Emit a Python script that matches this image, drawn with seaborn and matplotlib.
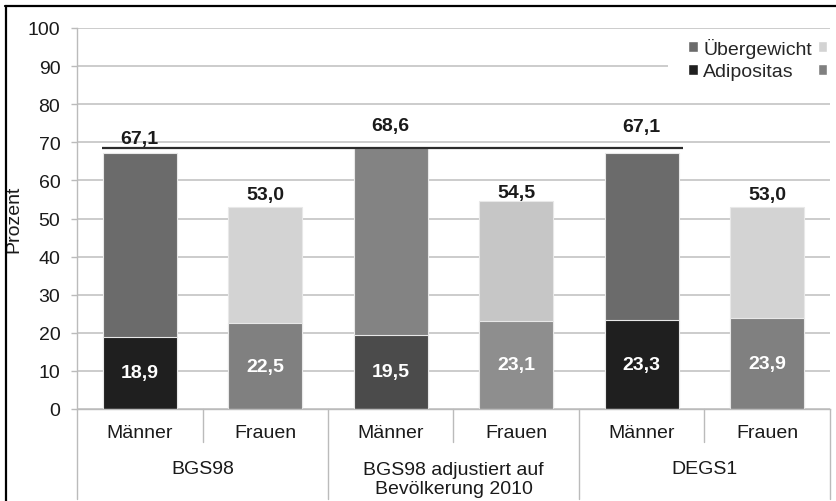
import numpy as np
import pandas as pd
import seaborn as sns
import matplotlib
matplotlib.use("Agg")
import matplotlib.pyplot as plt
from matplotlib.patches import Patch, Rectangle
from matplotlib.lines import Line2D
from matplotlib.transforms import blended_transform_factory

# --- data -------------------------------------------------------------
studies = ["BGS98", "BGS98 adjustiert auf\nBevölkerung 2010", "DEGS1"]
sexes = ["Männer", "Frauen"]
uebergewicht = [67.1, 53.0, 68.6, 54.5, 67.1, 53.0]   # Übergewicht incl. Adipositas
adipositas = [18.9, 22.5, 19.5, 23.1, 23.3, 23.9]
y_ticks = [0, 10, 20, 30, 40, 50, 60, 70, 80, 90, 100]

# --- styling ----------------------------------------------------------
top_colors = ["#6b6b6b", "#d3d3d3", "#838383", "#c6c6c6", "#6b6b6b", "#d3d3d3"]
bottom_colors = ["#1f1f1f", "#808080", "#4b4b4b", "#8e8e8e", "#1f1f1f", "#808080"]
label_lift = [10.5, 9.0, 16.0, 6.5, 19.5, 9.0]   # points above each bar top
FS = 14

sns.set_theme(style="white")
plt.rcParams["font.family"] = ["Liberation Sans", "DejaVu Sans"]

bars = [f"{s}|{x}" for s in studies for x in sexes]
df = pd.DataFrame({"bar": bars, "gesamt": uebergewicht, "adipositas": adipositas})

fig = plt.figure(figsize=(8.36, 5.02), dpi=100)
ax = fig.add_axes([77 / 836, 92 / 502, 753 / 836, 381 / 502])

grid_c = "#cccccc"
edge_c = "#e8e8e8"
sns.barplot(data=df, x="bar", y="gesamt", hue="bar", palette=top_colors,
            legend=False, width=0.59, saturation=1, edgecolor=edge_c,
            linewidth=0.8, ax=ax, zorder=2)
sns.barplot(data=df, x="bar", y="adipositas", hue="bar", palette=bottom_colors,
            legend=False, width=0.59, saturation=1, edgecolor=edge_c,
            linewidth=0.8, ax=ax, zorder=2)

ax.set_xlim(-0.5, 5.5)
ax.set_ylim(0, 100)
ax.set_yticks(y_ticks)
ax.set_yticklabels([str(t) for t in y_ticks], fontsize=FS, color="#1a1a1a")
ax.yaxis.grid(True, color=grid_c, lw=1.4)
ax.set_axisbelow(True)
ax.tick_params(axis="y", left=True, length=4, width=1, color="#bbbbbb", pad=8)

ax.set_xticks(range(6))
ax.set_xticklabels([x for _ in studies for x in sexes], fontsize=FS, color="#1a1a1a")
ax.tick_params(axis="x", length=0, pad=11)
ax.set_xlabel("")
ax.set_ylabel("Prozent", fontsize=FS, color="#1a1a1a")
ax.yaxis.set_label_coords(-0.073, 0.5)

for side in ["top", "right"]:
    ax.spines[side].set_visible(False)
ax.spines["left"].set_color("#bbbbbb")
ax.spines["bottom"].set_color("#bbbbbb")
ax.spines["left"].set_linewidth(1)
ax.spines["bottom"].set_linewidth(1)

# category axis separators and group labels
tr = blended_transform_factory(ax.transData, ax.transAxes)
for xs in [-0.5, 1.5, 3.5, 5.5]:
    ax.plot([xs, xs], [0, -0.236], transform=tr, color="#bbbbbb", lw=1, clip_on=False)
for xs in [0.5, 2.5, 4.5]:
    ax.plot([xs, xs], [0, -0.087], transform=tr, color="#bbbbbb", lw=1, clip_on=False)
for i, s in enumerate(studies):
    ax.text(2 * i + 0.5, -0.155 if "\n" not in s else -0.184, s, transform=tr,
            ha="center", va="center", fontsize=FS, color="#1a1a1a", linespacing=1.2)

# reference line at the adjusted BGS98 male value
ax.hlines(uebergewicht[2], -0.3, 4.33, color="#2b2b2b", lw=1.6, zorder=4)

# value labels
for i, (tot, adi) in enumerate(zip(uebergewicht, adipositas)):
    ax.annotate(f"{tot:.1f}".replace(".", ","), (i, tot), xytext=(0, label_lift[i]),
                textcoords="offset points", ha="center", va="center",
                fontsize=FS, fontweight="bold", color="#1a1a1a", zorder=5)
    ax.text(i, adi / 2, f"{adi:.1f}".replace(".", ","), ha="center", va="center",
            fontsize=FS, fontweight="bold", color="white", zorder=5)

# legend on a white panel
ax.add_patch(Rectangle((0.785, 0.81), 0.3, 0.18, transform=ax.transAxes,
                       facecolor="white", edgecolor="none", zorder=1.5, clip_on=False))
handles = [Patch(facecolor=top_colors[0]), Patch(facecolor=bottom_colors[0]),
           Patch(facecolor=top_colors[1]), Patch(facecolor=bottom_colors[1])]
labels = ["Übergewicht", "Adipositas", "", ""]
ax.legend(handles, labels, ncol=2, loc="upper left", bbox_to_anchor=(0.812, 0.975),
          frameon=False, fontsize=FS, handlelength=0.5, handleheight=0.5,
          handletextpad=0.25, columnspacing=0.3, labelspacing=0.3, borderpad=0,
          borderaxespad=0)

# outer frame (top and left)
fig.add_artist(Line2D([5.5 / 836, 5.5 / 836], [0, 1 - 6.5 / 502], color="black", lw=1.6,
                      transform=fig.transFigure))
fig.add_artist(Line2D([5 / 836, 1], [1 - 6.5 / 502, 1 - 6.5 / 502], color="black", lw=1.6,
                      transform=fig.transFigure))

fig.savefig("out.png", dpi=100)
